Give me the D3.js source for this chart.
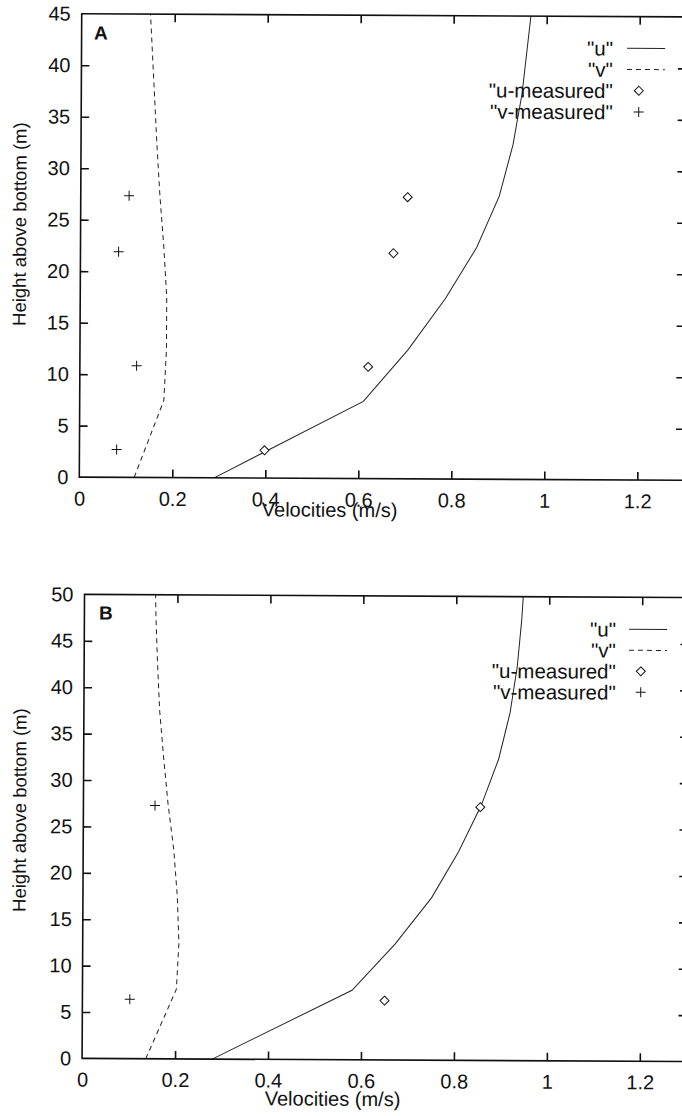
<!DOCTYPE html>
<html><head><meta charset="utf-8">
<script src="https://cdn.jsdelivr.net/npm/d3@7"></script>
<style>
html,body{margin:0;padding:0;background:#fff;}
svg{display:block;font-family:"Liberation Sans",Arial,sans-serif;}
</style></head>
<body><svg id="chart" width="682" height="1116"></svg>
<script>
// ---------- DATA ----------
const xTicks = [0, 0.2, 0.4, 0.6, 0.8, 1, 1.2];
const yTicksA = [0, 5, 10, 15, 20, 25, 30, 35, 40, 45];
const yTicksB = [0, 5, 10, 15, 20, 25, 30, 35, 40, 45, 50];
const legendLabels = ['"u"', '"v"', '"u-measured"', '"v-measured"'];

// Panel A model profiles
const heightsA = [0, 7.5, 12.5, 17.5, 22.5, 27.5, 32.5, 37.5, 42.5, 45];
const uModelA  = [0.29, 0.61, 0.705, 0.785, 0.852, 0.900, 0.929, 0.948, 0.960, 0.966];
const vModelA  = [0.118, 0.181, 0.186, 0.186, 0.179, 0.170, 0.163, 0.157, 0.151, 0.148];
// Panel A measurements
const measHeightsA = [2.7, 10.85, 21.9, 27.35];
const uMeasA = [0.398, 0.620, 0.673, 0.703];
const vMeasA = [0.080, 0.122, 0.082, 0.104];

// Panel B model profiles
const heightsB = [0, 7.5, 12.5, 17.5, 22.5, 27.5, 32.5, 37.5, 42.5, 47.5, 50];
const uModelB  = [0.28, 0.58, 0.672, 0.750, 0.808, 0.856, 0.893, 0.917, 0.932, 0.941, 0.944];
const vModelB  = [0.137, 0.202, 0.207, 0.203, 0.195, 0.182, 0.172, 0.163, 0.158, 0.154, 0.153];
// Panel B measurements
const measHeightsB = [6.4, 27.3];
const uMeasB = [0.650, 0.854];
const vMeasB = [0.102, 0.154];

// ---------- DRAW ----------
const svg = d3.select("#chart");
const INK = "#111";

function drawPanel(cfg) {
  const cx = (cfg.left + cfg.right) / 2, cy = (cfg.top + cfg.bottom) / 2;
  const g = svg.append("g").attr("transform", `rotate(${cfg.tilt},${cx},${cy})`);
  const x = d3.scaleLinear().domain([0, 1.3]).range([cfg.left, cfg.right]);
  const y = d3.scaleLinear().domain([0, cfg.yMax]).range([cfg.bottom, cfg.top]);
  const tick = 8;

  // model lines
  const line = d3.line().x(d => x(d[0])).y(d => y(d[1]));
  g.append("path").datum(cfg.u.map((v, i) => [v, cfg.h[i]]))
    .attr("d", line).attr("fill", "none").attr("stroke", "#222").attr("stroke-width", 1);
  g.append("path").datum(cfg.v.map((v, i) => [v, cfg.h[i]]))
    .attr("d", line).attr("fill", "none").attr("stroke", "#222").attr("stroke-width", 1)
    .attr("stroke-dasharray", "5,4");

  // measured points
  const diamond = (px, py, r) => `M${px},${py - r}L${px + r},${py}L${px},${py + r}L${px - r},${py}Z`;
  const plus = (px, py, r) => `M${px - r},${py}H${px + r}M${px},${py - r}V${py + r}`;
  g.selectAll(".um").data(cfg.um.map((v, i) => [v, cfg.mh[i]])).enter().append("path")
    .attr("d", d => diamond(x(d[0]), y(d[1]), 4.5)).attr("fill", "#fff")
    .attr("stroke", INK).attr("stroke-width", 1);
  g.selectAll(".vm").data(cfg.vm.map((v, i) => [v, cfg.mh[i]])).enter().append("path")
    .attr("d", d => plus(x(d[0]), y(d[1]), 5)).attr("fill", "none")
    .attr("stroke", INK).attr("stroke-width", 1);

  // frame
  g.append("rect").attr("x", cfg.left).attr("y", cfg.top)
    .attr("width", cfg.right - cfg.left).attr("height", cfg.bottom - cfg.top)
    .attr("fill", "none").attr("stroke", INK).attr("stroke-width", 1.6);

  // axes (inward ticks)
  const axB = d3.axisBottom(x).tickValues(xTicks).tickSize(-tick).tickFormat(d3.format("~g"));
  const gB = g.append("g").attr("transform", `translate(0,${cfg.bottom})`).call(axB);
  const axT = d3.axisTop(x).tickValues(xTicks.filter(d => d > 0)).tickSize(-tick).tickFormat("");
  const gT = g.append("g").attr("transform", `translate(0,${cfg.top})`).call(axT);
  const axL = d3.axisLeft(y).tickValues(cfg.yTicks).tickSize(-tick).tickFormat(d3.format("~g")).tickPadding(11);
  const gL = g.append("g").attr("transform", `translate(${cfg.left},0)`).call(axL);
  const axR = d3.axisRight(y).tickValues(cfg.yTicks.filter(d => d > 0 && d < cfg.yMax)).tickSize(-tick).tickFormat("");
  const gR = g.append("g").attr("transform", `translate(${cfg.right},0)`).call(axR);
  [gB, gT, gL, gR].forEach(a => {
    a.select(".domain").remove();
    a.selectAll(".tick line").attr("stroke", INK).attr("stroke-width", 1.6);
  });
  gB.selectAll(".tick line").filter(d => d === 0).remove();
  gL.selectAll(".tick line").filter(d => d === 0 || d === cfg.yMax).remove();
  gB.selectAll("text").attr("font-size", 20).attr("fill", INK)
    .attr("font-family", "Liberation Sans, Arial, sans-serif").attr("dy", null)
    .attr("y", cfg.xLabelBase - cfg.bottom);
  gL.selectAll("text").attr("font-size", 20).attr("fill", INK)
    .attr("font-family", "Liberation Sans, Arial, sans-serif");

  // axis titles
  g.append("text").attr("x", cfg.xTitleX).attr("y", cfg.xTitleBase)
    .attr("text-anchor", "middle").attr("font-size", 20).attr("fill", INK)
    .text("Velocities (m/s)");
  g.append("text").attr("transform", `translate(${cfg.yTitleX},${cfg.yTitleY}) rotate(-90)`)
    .attr("text-anchor", "middle").attr("font-size", 18.5).attr("fill", INK)
    .text("Height above bottom (m)");

  // panel label
  g.append("text").attr("x", cfg.labelX).attr("y", cfg.labelY)
    .attr("font-size", 19).attr("font-weight", "bold").attr("fill", INK).text(cfg.label);

  // legend
  const lg = g.append("g");
  legendLabels.forEach((lab, i) => {
    const ry = cfg.legY + i * cfg.legStep;
    lg.append("text").attr("x", cfg.legTextRight).attr("y", ry + 7.5)
      .attr("text-anchor", "end").attr("font-size", 20.5).attr("fill", INK).text(lab);
    if (i === 0 || i === 1) {
      const ln = lg.append("line").attr("x1", cfg.legLine[0]).attr("x2", cfg.legLine[1])
        .attr("y1", ry).attr("y2", ry).attr("stroke", "#222").attr("stroke-width", 1);
      if (i === 1) ln.attr("stroke-dasharray", "5,4");
    } else if (i === 2) {
      lg.append("path").attr("d", diamond(cfg.legSym, ry, 4.5)).attr("fill", "#fff")
        .attr("stroke", INK).attr("stroke-width", 1);
    } else {
      lg.append("path").attr("d", plus(cfg.legSym, ry, 5)).attr("fill", "none")
        .attr("stroke", INK).attr("stroke-width", 1);
    }
  });
}

drawPanel({
  label: "A", labelX: 93, labelY: 41, tilt: 0.3,
  left: 80.5, right: 685, top: 15.3, bottom: 478.7, yMax: 45, yTicks: yTicksA,
  h: heightsA, u: uModelA, v: vModelA, mh: measHeightsA, um: uMeasA, vm: vMeasA,
  xLabelBase: 507, xTitleX: 331, xTitleBase: 517,
  yTitleX: 26, yTitleY: 226,
  legY: 47, legStep: 21.2, legTextRight: 612, legLine: [626, 664], legSym: 638
});

drawPanel({
  label: "B", labelX: 98, labelY: 621, tilt: 0.3,
  left: 83.3, right: 687.5, top: 596, bottom: 1060, yMax: 50, yTicks: yTicksB,
  h: heightsB, u: uModelB, v: vModelB, mh: measHeightsB, um: uMeasB, vm: vMeasB,
  xLabelBase: 1088, xTitleX: 334, xTitleBase: 1106,
  yTitleX: 26, yTitleY: 812,
  legY: 628, legStep: 21, legTextRight: 615, legLine: [628, 666], legSym: 640
});
</script></body></html>
